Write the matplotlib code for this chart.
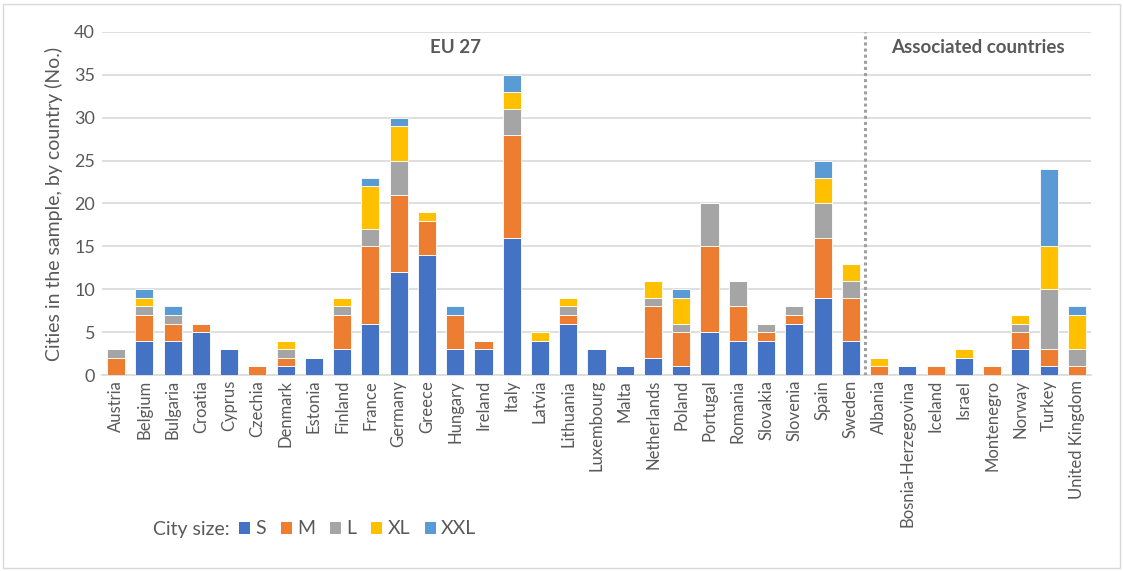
import matplotlib

matplotlib.use("Agg")

import matplotlib.pyplot as plt
import numpy as np
from matplotlib.patches import Patch, Rectangle

countries = [
    "Austria", "Belgium", "Bulgaria", "Croatia", "Cyprus", "Czechia", "Denmark",
    "Estonia", "Finland", "France", "Germany", "Greece", "Hungary", "Ireland",
    "Italy", "Latvia", "Lithuania", "Luxembourg", "Malta", "Netherlands", "Poland",
    "Portugal", "Romania", "Slovakia", "Slovenia", "Spain", "Sweden",
    "Albania", "Bosnia-Herzegovina", "Iceland", "Israel", "Montenegro", "Norway",
    "Turkey", "United Kingdom",
]
n_eu = 27

size_s = [0, 4, 4, 5, 3, 0, 1, 2, 3, 6, 12, 14, 3, 3, 16, 4, 6, 3, 1, 2, 1, 5, 4, 4, 6, 9, 4,
          0, 1, 0, 2, 0, 3, 1, 0]
size_m = [2, 3, 2, 1, 0, 1, 1, 0, 4, 9, 9, 4, 4, 1, 12, 0, 1, 0, 0, 6, 4, 10, 4, 1, 1, 7, 5,
          1, 0, 1, 0, 1, 2, 2, 1]
size_l = [1, 1, 1, 0, 0, 0, 1, 0, 1, 2, 4, 0, 0, 0, 3, 0, 1, 0, 0, 1, 1, 5, 3, 1, 1, 4, 2,
          0, 0, 0, 0, 0, 1, 7, 2]
size_xl = [0, 1, 0, 0, 0, 0, 1, 0, 1, 5, 4, 1, 0, 0, 2, 1, 1, 0, 0, 2, 3, 0, 0, 0, 0, 3, 2,
           1, 0, 0, 1, 0, 1, 5, 4]
size_xxl = [0, 1, 1, 0, 0, 0, 0, 0, 0, 1, 1, 0, 1, 0, 2, 0, 0, 0, 0, 0, 1, 0, 0, 0, 0, 2, 0,
            0, 0, 0, 0, 0, 0, 9, 1]

series = [
    ("S", size_s, "#4472C4"),
    ("M", size_m, "#ED7D31"),
    ("L", size_l, "#A5A5A5"),
    ("XL", size_xl, "#FFC000"),
    ("XXL", size_xxl, "#5B9BD5"),
]

plt.rcParams["font.family"] = ["Lato", "DejaVu Sans"]
text_grey = "#595959"

fig = plt.figure(figsize=(11.24, 5.71), dpi=100)
ax = fig.add_axes([102 / 1124, 1 - 375 / 571, (1091 - 102) / 1124, (375 - 32) / 571])

x = np.arange(len(countries))
bottom = np.zeros(len(countries))
for name, vals, color in series:
    vals = np.array(vals, dtype=float)
    ax.bar(x, vals, bottom=bottom, width=0.64, color=color, edgecolor="white",
           linewidth=0.6, label=name, zorder=3)
    bottom += vals

ax.set_xlim(-0.5, len(countries) - 0.5)
ax.set_ylim(0, 40)
ax.set_yticks(range(0, 41, 5))
ax.yaxis.grid(True, color="#D9D9D9", linewidth=1.2, zorder=0)
ax.set_axisbelow(True)
for side in ("top", "right", "left"):
    ax.spines[side].set_visible(False)
ax.spines["bottom"].set_color("#D9D9D9")
ax.spines["bottom"].set_linewidth(1.2)
ax.tick_params(axis="both", length=0, colors=text_grey, labelsize=13)
ax.tick_params(axis="y", pad=5)
ax.set_xticks(x)
ax.set_xticklabels(countries, rotation=90, fontsize=12, color=text_grey)
ax.set_ylabel("Cities in the sample, by country (No.)", fontsize=14, color=text_grey, labelpad=8)

# separator between EU members and associated countries
ax.axvline(n_eu - 0.5, ymin=0, ymax=1.0, color="#A0A0A0", linestyle=(0, (1, 1)), linewidth=2.2,
           zorder=4)
ax.text(12, 38.2, "EU 27", ha="center", va="center", fontsize=13.5, fontweight="bold",
        color=text_grey)
ax.text(30.5, 38.2, "Associated countries", ha="center", va="center", fontsize=13.5,
        fontweight="bold", color=text_grey)

handles = [Patch(facecolor=c, edgecolor="none") for _, _, c in series]
labels = [n for n, _, _ in series]
fig.text(153 / 1124, 1 - 529 / 571, "City size:", ha="left", va="center", fontsize=14,
         color=text_grey)
leg = fig.legend(handles, labels, ncol=5, loc="center left",
                 bbox_to_anchor=(239 / 1124, 1 - 529 / 571), frameon=False, fontsize=14,
                 handlelength=0.57, handleheight=0.57, handletextpad=0.28, columnspacing=0.75,
                 borderaxespad=0, borderpad=0)
for t in leg.get_texts():
    t.set_color(text_grey)

fig.patches.append(Rectangle((3 / 1124, 3 / 571), 1 - 7 / 1124, 1 - 7 / 571, fill=False,
                             edgecolor="#D9D9D9", linewidth=1, transform=fig.transFigure,
                             figure=fig))

fig.savefig("out.png", dpi=100)
plt.close(fig)
